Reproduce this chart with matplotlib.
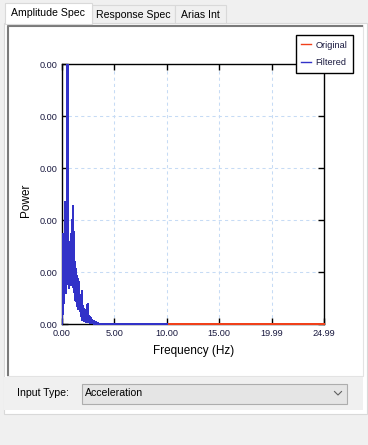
import matplotlib
matplotlib.use("Agg")
import matplotlib.pyplot as plt
from matplotlib.patches import Rectangle
from matplotlib.ticker import FormatStrFormatter, FixedLocator
from matplotlib.transforms import Bbox, TransformedBbox
import numpy as np

plt.rcParams['font.family'] = ['Liberation Sans', 'DejaVu Sans']

freq_step = 0.05
filtered_power_u = [0, 77, 19, 173, 40, 169, 96, 235, 60, 135,
                    600, 115, 163, 70, 154, 90, 140, 75, 173, 85,
                    183, 227, 70, 177, 60, 119, 45, 106, 55, 92,
                    30, 87, 40, 58, 25, 42, 15, 38, 63, 8,
                    35, 12, 29, 6, 23, 8, 27, 4, 19, 38,
                    6, 15, 4, 13, 2, 12, 2, 8, 2, 6,
                    1, 6, 1, 4, 1, 4, 0, 2, 0, 2, 0]
original_power_u = list(filtered_power_u)
filtered_end_hz = 10.0
original_end_hz = 24.99

x_ticks = [0.0, 5.0, 10.0, 15.0, 19.99, 24.99]
y_ticks_u = [0, 100, 200, 300, 400, 500]

series_names = ["Original", "Filtered"]
series_colors = ["#f0401a", "#3232c8"]

tabs = ["Amplitude Spec", "Response Spec", "Arias Int"]
input_label = "Input Type:"
input_value = "Acceleration"

# build the series
low_freq = np.arange(len(filtered_power_u)) * freq_step
f_filt = np.append(low_freq, filtered_end_hz)
p_filt = np.append(np.array(filtered_power_u), 0) * 1e-6
f_orig = np.append(low_freq, original_end_hz)
p_orig = np.append(np.array(original_power_u), 0) * 1e-6

W, H = 368, 445
fig = plt.figure(figsize=(W / 100, H / 100), dpi=100)
fig.patch.set_facecolor("#f0f0f0")

# window chrome drawn in pixel coordinates
bg = fig.add_axes([0, 0, 1, 1], zorder=0)
bg.set_xlim(0, W)
bg.set_ylim(H, 0)
bg.axis("off")

border = "#d9d9d9"
# tab page
bg.add_patch(Rectangle((3.5, 22.5), 363, 391, facecolor="white", edgecolor=border, lw=0.8))
# tabs
tab_boxes = [(92, 174.5, 4.5), (174.5, 226, 4.5)]
for (x0, x1, y0), name in zip(tab_boxes, tabs[1:]):
    bg.add_patch(Rectangle((x0, y0), x1 - x0, 22.5 - y0, facecolor="#f0f0f0", edgecolor=border, lw=0.8))
    bg.text((x0 + x1) / 2, 14.5, name, ha="center", va="center", fontsize=7.6, color="black")
bg.add_patch(Rectangle((4.5, 2.5), 87.5, 21, facecolor="white", edgecolor=border, lw=0.8, zorder=3))
bg.text(47.5, 12.5, tabs[0], ha="center", va="center", fontsize=7.6, color="black", zorder=4)

# chart frame
bg.add_patch(Rectangle((7, 25), 356, 351, facecolor="white", edgecolor="#e3e3e3", lw=0.8))
bg.plot([7.5, 7.5, 363], [376, 25.5, 25.5], color="#7a7a7a", lw=1.5, solid_capstyle="butt")

# input panel
bg.add_patch(Rectangle((4, 377), 359, 33, facecolor="#f0f0f0", edgecolor="none"))
bg.text(17, 393.5, input_label, ha="left", va="center", fontsize=7.6, color="black")
bg.add_patch(Rectangle((81.5, 383.5), 265.5, 20, facecolor="#e5e5e5", edgecolor="#adadad", lw=0.8))
bg.text(85, 393.5, input_value, ha="left", va="center", fontsize=7.6, color="black")
bg.plot([334.5, 338, 341.5], [391.5, 395, 391.5], color="#606060", lw=0.8)

# plot area
ax_l, ax_r, ax_t, ax_b = 62, 324, 64, 324
ax = fig.add_axes([ax_l / W, 1 - ax_b / H, (ax_r - ax_l) / W, (ax_b - ax_t) / H], zorder=1)
ax.set_facecolor("white")

# let the zero line sit on top of the bottom spine instead of being half clipped
clip = TransformedBbox(Bbox([[0, -0.01], [1.01, 1]]), ax.transAxes)
for fr, pw, col, name in [(f_orig, p_orig, series_colors[0], series_names[0]),
                          (f_filt, p_filt, series_colors[1], series_names[1])]:
    ln, = ax.plot(fr, pw, color=col, lw=1.0, label=name, zorder=3, antialiased=False)
    ln.set_clip_box(clip)

ax.set_xlim(0, 24.99)
ax.set_ylim(0, 5e-4)
ax.xaxis.set_major_locator(FixedLocator(x_ticks))
ax.yaxis.set_major_locator(FixedLocator([v * 1e-6 for v in y_ticks_u]))
ax.xaxis.set_major_formatter(FormatStrFormatter("%.2f"))
ax.yaxis.set_major_formatter(FormatStrFormatter("%.2f"))
ax.tick_params(direction="in", length=4.5, width=1, top=True, right=True,
               labelsize=6.6, labelcolor="#1a1a40", pad=3.5)
for s in ax.spines.values():
    s.set_linewidth(1.0)
    s.set_color("black")
ax.grid(True, color="#c6dbf5", lw=0.75, linestyle=(0, (3, 3)))
ax.set_axisbelow(True)

ax.set_xlabel("Frequency (Hz)", fontsize=8.5)
ax.set_ylabel("Power", fontsize=8.5)
ax.xaxis.set_label_coords(0.501, -0.081)
ax.yaxis.set_label_coords(-0.116, 0.477)

leg = ax.legend(loc="upper right", bbox_to_anchor=(353 / W, 1 - 35 / H),
                bbox_transform=fig.transFigure, fontsize=6.6, frameon=True,
                fancybox=False, edgecolor="black", framealpha=1,
                handlelength=1.0, handletextpad=0.55, borderpad=0.6,
                labelspacing=0.95, borderaxespad=0)
leg.get_frame().set_linewidth(1.0)
for t in leg.get_texts():
    t.set_color("#1a1a40")

fig.savefig("out.png", dpi=100)
